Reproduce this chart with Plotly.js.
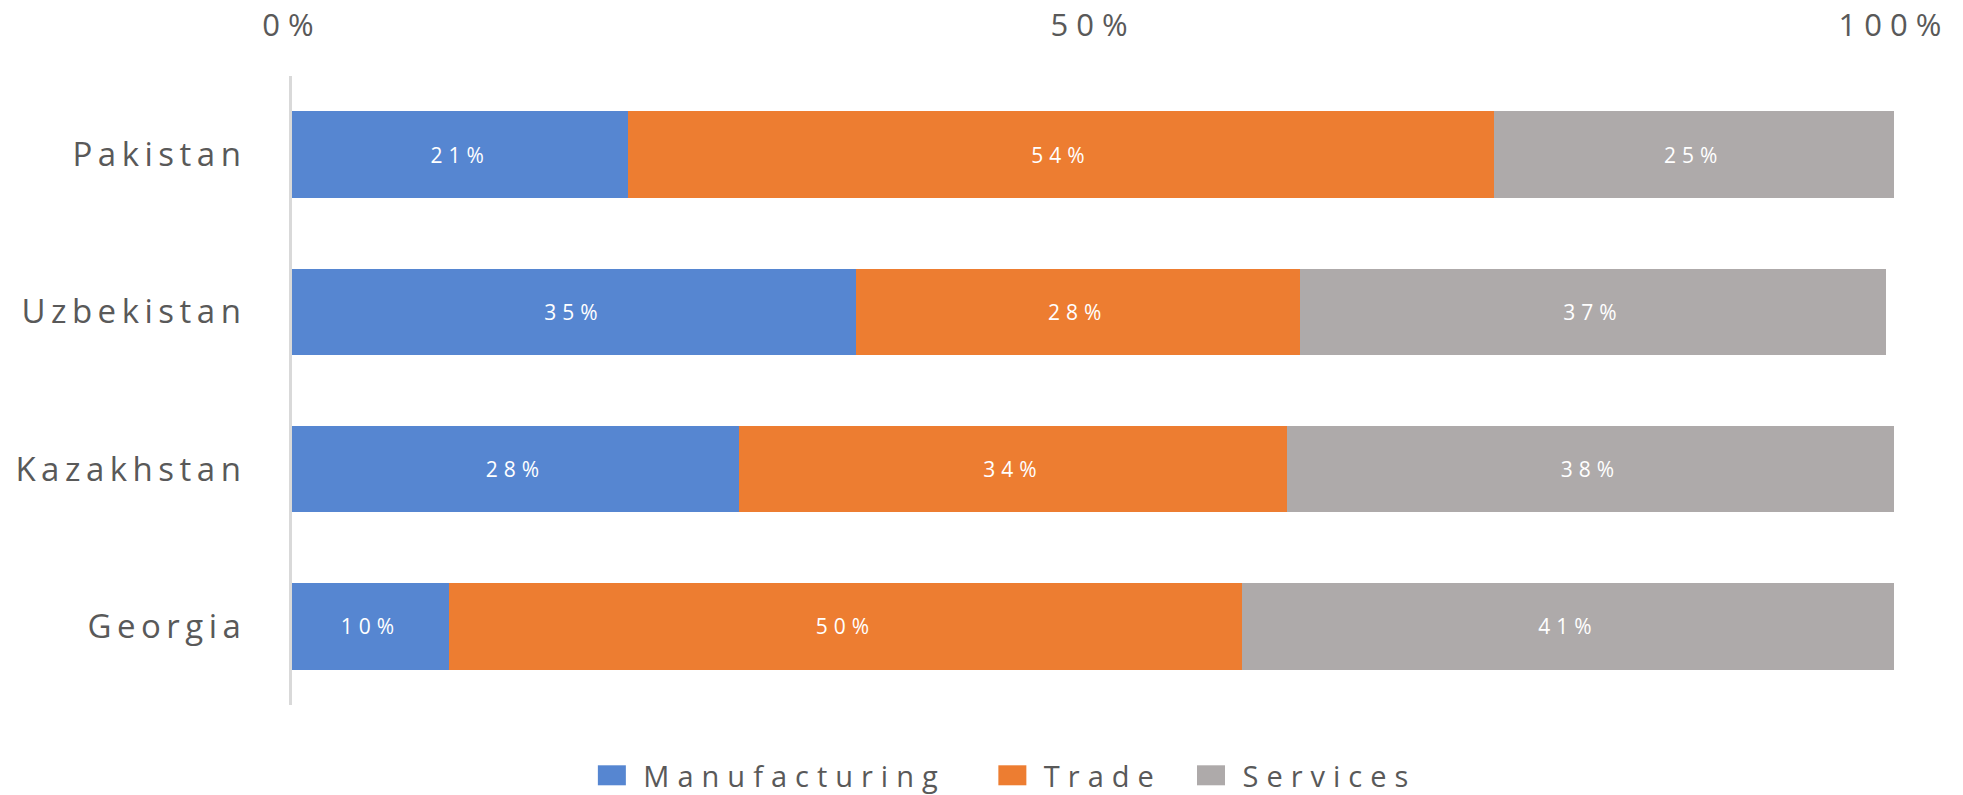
<!DOCTYPE html>
<html>
<head>
<meta charset="utf-8">
<script src="https://cdn.plot.ly/plotly-3.0.1.min.js"></script>
<style>
  html, body { margin: 0; padding: 0; background: #ffffff; }
  #chart { width: 1963px; height: 795px; }
  .ytick text { letter-spacing: 5.5px; }
  .xtick text { letter-spacing: 8px; }
  .infolayer text { letter-spacing: 8px; }
  .infolayer [clip-path] { clip-path: none !important; }
  text.bartext { letter-spacing: 6px; }
  .infolayer .legendpoints path { d: path("M14,10H-14V-10H14Z"); }
</style>
</head>
<body>
<div id="chart"></div>
<script>
// Categories, top to bottom
const countries = ["Pakistan", "Uzbekistan", "Kazakhstan", "Georgia"];

// Shares (%)
const manufacturing = [21.0, 35.2, 27.9, 9.8];
const trade         = [54.0, 27.7, 34.2, 49.5];
const services      = [25.0, 36.6, 37.9, 40.7];

// Data labels as printed on the bars
const manufacturingLabels = ["21%", "35%", "28%", "10%"];
const tradeLabels         = ["54%", "28%", "34%", "50%"];
const servicesLabels      = ["25%", "37%", "38%", "41%"];

// Axis ticks
const tickValues = [0, 50, 100];
const tickLabels = ["0%", "50%", "100%"];

const labelFont = { family: "Open Sans, Noto Sans, sans-serif", size: 21, color: "#ffffff" };

function series(name, values, labels, color, legendId) {
  return {
    type: "bar",
    orientation: "h",
    name: name,
    y: countries,
    x: values,
    text: labels,
    textposition: "inside",
    insidetextanchor: "middle",
    textangle: 0,
    texttemplate: "%{text}",
    textfont: labelFont,
    marker: { color: color, line: { width: 0 } },
    hoverinfo: "name+x",
    legend: legendId
  };
}

const data = [
  series("Manufacturing", manufacturing, manufacturingLabels, "#5686D1", "legend"),
  series("Trade", trade, tradeLabels, "#ED7D31", "legend2"),
  series("Services", services, servicesLabels, "#AEAAAA", "legend3")
];

function legendAt(x) {
  return {
    orientation: "h",
    xref: "paper",
    yref: "paper",
    x: x,
    xanchor: "left",
    y: -0.112,
    yanchor: "middle",
    itemwidth: 53,
    font: { size: 29, color: "#595959" },
    bgcolor: "rgba(0,0,0,0)"
  };
}

const layout = {
  width: 1963,
  height: 795,
  paper_bgcolor: "#ffffff",
  plot_bgcolor: "#ffffff",
  barmode: "stack",
  bargap: 0.45,
  margin: { l: 292, r: 69, t: 76, b: 90, pad: 0, autoexpand: false },
  font: { family: "Open Sans, Noto Sans, sans-serif", color: "#595959" },
  xaxis: {
    side: "top",
    range: [0, 100],
    tickvals: tickValues,
    ticktext: tickLabels,
    showgrid: false,
    zeroline: false,
    showline: false,
    ticks: "outside",
    ticklen: 27,
    tickcolor: "rgba(0,0,0,0)",
    tickfont: { size: 31, color: "#595959" },
    fixedrange: true
  },
  yaxis: {
    autorange: "reversed",
    type: "category",
    showgrid: false,
    zeroline: false,
    showline: true,
    linecolor: "#D9D9D9",
    linewidth: 3,
    ticks: "outside",
    ticklen: 36,
    tickcolor: "rgba(0,0,0,0)",
    tickfont: { size: 33, color: "#595959" },
    fixedrange: true
  },
  showlegend: true,
  legend: legendAt(0.180),
  legend2: legendAt(0.430),
  legend3: legendAt(0.554)
};

Plotly.newPlot("chart", data, layout, { displayModeBar: false, staticPlot: true });
</script>
</body>
</html>
